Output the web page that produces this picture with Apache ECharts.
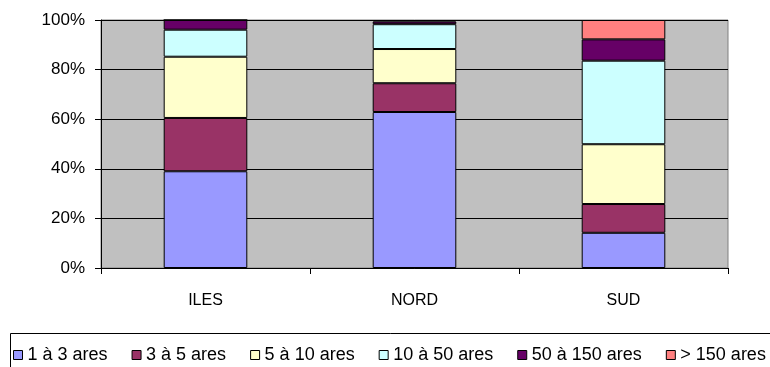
<!DOCTYPE html>
<html>
<head>
<meta charset="utf-8">
<script src="https://cdn.jsdelivr.net/npm/echarts@6/dist/echarts.min.js"></script>
<style>
  html, body { margin: 0; padding: 0; background: #fff; }
  #chart { width: 770px; height: 367px; }
</style>
</head>
<body>
<div id="chart"></div>
<script>
// Share of plots by size class (%) per region
const regions = ['ILES', 'NORD', 'SUD'];
const sizeClasses = ['1 à 3 ares', '3 à 5 ares', '5 à 10 ares', '10 à 50 ares', '50 à 150 ares', '> 150 ares'];
const class1to3 = [39.0, 62.9, 14.2];
const class3to5 = [21.5, 11.6, 11.6];
const class5to10 = [24.7, 13.8, 24.1];
const class10to50 = [10.9, 10.0, 33.7];
const class50to150 = [3.9, 1.1, 8.6];
const classOver150 = [0.0, 0.6, 7.8];
const yTicks = [0, 20, 40, 60, 80, 100];

const classValues = [class1to3, class3to5, class5to10, class10to50, class50to150, classOver150];
const classColors = ['#9999FF', '#993366', '#FFFFCC', '#CCFFFF', '#660066', '#FF8080'];

const FONT = 'Liberation Sans, Arial, sans-serif';

const chart = echarts.init(document.getElementById('chart'), null, { renderer: 'canvas' });

chart.setOption({
  animation: false,
  backgroundColor: '#ffffff',
  textStyle: { fontFamily: FONT },
  grid: {
    left: 101, top: 20, right: 42, bottom: 99,
    show: true, backgroundColor: '#C0C0C0', borderColor: '#808080', borderWidth: 1
  },
  graphic: [{
    type: 'rect', left: 10, top: 333, z: 0,
    shape: { x: 0, y: 0, width: 800, height: 60 },
    style: { fill: '#ffffff', stroke: '#000000', lineWidth: 1 }
  }],
  legend: {
    left: 13, top: 346, padding: 0,
    itemWidth: 9, itemHeight: 9, itemGap: 24,
    icon: 'rect',
    textStyle: { fontFamily: FONT, fontSize: 18, color: '#000' },
    itemStyle: { borderColor: '#000', borderWidth: 1 },
    data: sizeClasses
  },
  xAxis: {
    type: 'category',
    data: regions,
    axisLine: { lineStyle: { color: '#000', width: 1 } },
    axisTick: { show: true, length: 6, lineStyle: { color: '#000' } },
    axisLabel: { color: '#000', fontFamily: FONT, fontSize: 16, margin: 25 },
    splitLine: { show: false }
  },
  yAxis: {
    type: 'value',
    min: yTicks[0], max: yTicks[yTicks.length - 1], interval: 20,
    axisLine: { show: true, lineStyle: { color: '#000', width: 1 } },
    axisTick: { show: true, length: 6, lineStyle: { color: '#000' } },
    axisLabel: { color: '#000', fontFamily: FONT, fontSize: 17, margin: 16, formatter: '{value}%' },
    splitLine: { show: true, lineStyle: { color: '#000', width: 1 } }
  },
  series: sizeClasses.map((name, i) => ({
    name: name,
    type: 'bar',
    stack: 'total',
    barWidth: '40%',
    data: classValues[i],
    itemStyle: { color: classColors[i], borderColor: '#000', borderWidth: 1 }
  }))
});
</script>
</body>
</html>
